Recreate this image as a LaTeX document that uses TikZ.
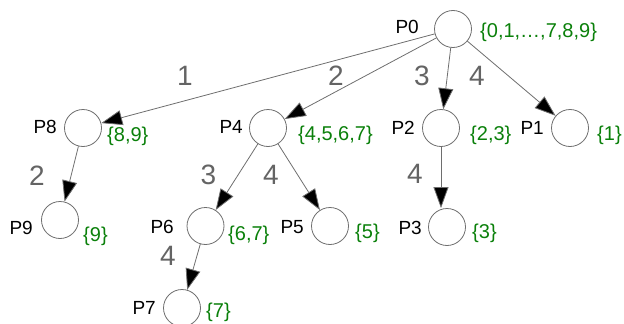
\documentclass[tikz,border=0pt]{standalone}
\usepackage{fontspec}
\setmainfont{Liberation Sans}
\usetikzlibrary{arrows.meta}
\definecolor{setgreen}{RGB}{10,128,10}
\definecolor{edgegray}{RGB}{110,110,110}
\definecolor{labgray}{RGB}{100,100,100}
\tikzset{
  proc/.style={circle, draw=edgegray, line width=0.8pt, minimum size=37pt, inner sep=0pt},
  pname/.style={anchor=east, inner sep=0pt, font=\fontsize{19}{21}\selectfont, text=black},
  pset/.style={anchor=west, inner sep=0pt, font=\fontsize{20}{22}\selectfont, text=setgreen},
  elab/.style={inner sep=0pt, font=\fontsize{28}{30}\selectfont, text=labgray},
  link/.style={draw=edgegray, line width=0.8pt, -{Triangle[length=21pt,width=15pt,fill=black]}},
}
\begin{document}
\begin{tikzpicture}[x=1pt,y=-1pt]
\useasboundingbox (0,0) rectangle (624,324);
\clip (0,0) rectangle (624,324);
% circles
\node[proc] (P0) at (453,29) {};
\node[proc] (P8) at (83,128) {};
\node[proc] (P4) at (268,128) {};
\node[proc] (P2) at (441,128) {};
\node[proc] (P1) at (570,128) {};
\node[proc] (P9) at (60,220) {};
\node[proc] (P6) at (205.5,226) {};
\node[proc] (P5) at (330,226) {};
\node[proc] (P3) at (447,227) {};
\node[proc] (P7) at (182,308) {};
% names
\node[pname] (n0) at (419,27) {P0};
\node[pname] (n8) at (57,127) {P8};
\node[pname] (n4) at (243,127) {P4};
\node[pname] (n2) at (415,128) {P2};
\node[pname] (n1) at (544,128) {P1};
\node[pname] (n9) at (33,228) {P9};
\node[pname] (n6) at (174,227) {P6};
\node[pname] (n5) at (304,227) {P5};
\node[pname] (n3) at (422,228) {P3};
\node[pname] (n7) at (156,308) {P7};
% sets
\node[pset] (s0) at (480,32) {\{0,1,…,7,8,9\}};
\node[pset] (s8) at (107,136) {\{8,9\}};
\node[pset] (s4) at (298,135) {\{4,5,6,7\}};
\node[pset] (s2) at (470,135) {\{2,3\}};
\node[pset] (s1) at (597,135) {\{1\}};
\node[pset] (s9) at (83,236) {\{9\}};
\node[pset] (s6) at (228,235) {\{6,7\}};
\node[pset] (s5) at (355,233) {\{5\}};
\node[pset] (s3) at (472,233) {\{3\}};
\node[pset] (s7) at (206,312) {\{7\}};
% edge labels
\node[elab] (l1) at (185,76) {1};
\node[elab] (l2) at (336,76) {2};
\node[elab] (l3) at (422,76) {3};
\node[elab] (l4) at (477,76) {4};
\node[elab] (l5) at (37,176) {2};
\node[elab] (l6) at (208.5,174.5) {3};
\node[elab] (l7) at (271,174.5) {4};
\node[elab] (l8) at (415,174) {4};
\node[elab] (l9) at (168,256) {4};
% edges
\draw[link] (P0) -- (P8);
\draw[link] (P0) -- (P4);
\draw[link] (P0) -- (P2);
\draw[link] (P0) -- (P1);
\draw[link] (P8) -- (P9);
\draw[link] (P4) -- (P6);
\draw[link] (P4) -- (P5);
\draw[link] (P2.south) -- (P2.south |- P3.north);
\draw[link] (P6) -- (P7);
\end{tikzpicture}
\end{document}
